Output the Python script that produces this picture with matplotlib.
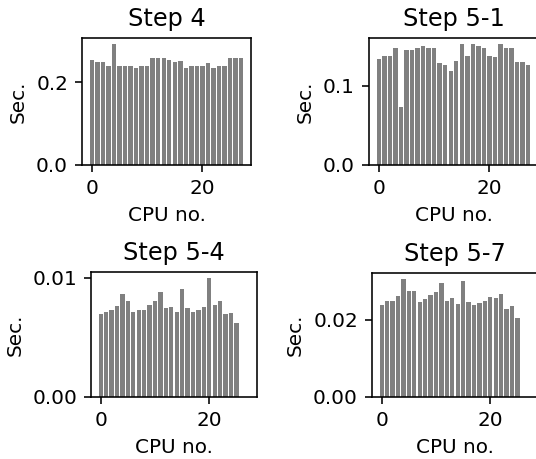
import matplotlib
matplotlib.use("Agg")
import matplotlib.pyplot as plt
import numpy as np

titles = ["Step 4", "Step 5-1", "Step 5-4", "Step 5-7"]

step4 = [0.255, 0.250, 0.250, 0.239, 0.293, 0.241, 0.241, 0.241, 0.236, 0.239,
         0.241, 0.258, 0.258, 0.258, 0.255, 0.250, 0.253, 0.236, 0.239, 0.241,
         0.241, 0.247, 0.236, 0.239, 0.241, 0.258, 0.258, 0.258]
step5_1 = [0.1335, 0.1377, 0.1377, 0.148, 0.0733, 0.145, 0.145, 0.148, 0.150, 0.148,
           0.148, 0.129, 0.126, 0.119, 0.132, 0.153, 0.138, 0.153, 0.150, 0.148,
           0.138, 0.136, 0.153, 0.148, 0.148, 0.130, 0.130, 0.126]
step5_4 = [0.00696, 0.00715, 0.00735, 0.00763, 0.00865, 0.00806, 0.00715, 0.00727,
           0.00735, 0.00775, 0.00806, 0.00885, 0.00746, 0.00755, 0.00715, 0.00904,
           0.00746, 0.00715, 0.00727, 0.00755, 0.0100, 0.00775, 0.00806, 0.00696,
           0.00704, 0.00625]
step5_7 = [0.0237, 0.0249, 0.0249, 0.0261, 0.0305, 0.0273, 0.0273, 0.0246, 0.0252,
           0.0264, 0.0270, 0.0295, 0.0249, 0.0255, 0.0240, 0.0300, 0.0246, 0.0237,
           0.0243, 0.0249, 0.0258, 0.0255, 0.0267, 0.0228, 0.0234, 0.0204]

series = [step4, step5_1, step5_4, step5_7]
yticks = [[0.0, 0.2], [0.0, 0.1], [0.00, 0.01], [0.00, 0.02]]
yfmt = ["%.1f", "%.1f", "%.2f", "%.2f"]
xticks = [0, 20]

DPI = 144
W, H = 536, 459
fig = plt.figure(figsize=(W / DPI, H / DPI), dpi=DPI)

# axes boxes in pixels: left, top, right, bottom
boxes = [(82, 38, 251, 165), (369, 38, 538, 165),
         (91, 272, 257, 397), (372, 273, 538, 397)]

for vals, title, yt, fmt, (l, t, r, b) in zip(series, titles, yticks, yfmt, boxes):
    ax = fig.add_axes([l / W, 1 - b / H, (r - l) / W, (b - t) / H])
    x = np.arange(len(vals))
    ax.bar(x, vals, width=0.8, color="gray")
    ax.set_xlim(-1.79, 28.79)
    ax.set_ylim(0, max(vals) * 1.05)
    ax.set_xticks(xticks)
    ax.set_yticks(yt)
    ax.set_yticklabels([fmt % v for v in yt])
    ax.set_title(title)
    ax.set_xlabel("CPU no.")
    ax.set_ylabel("Sec.")

fig.savefig("out.png", dpi=DPI)
